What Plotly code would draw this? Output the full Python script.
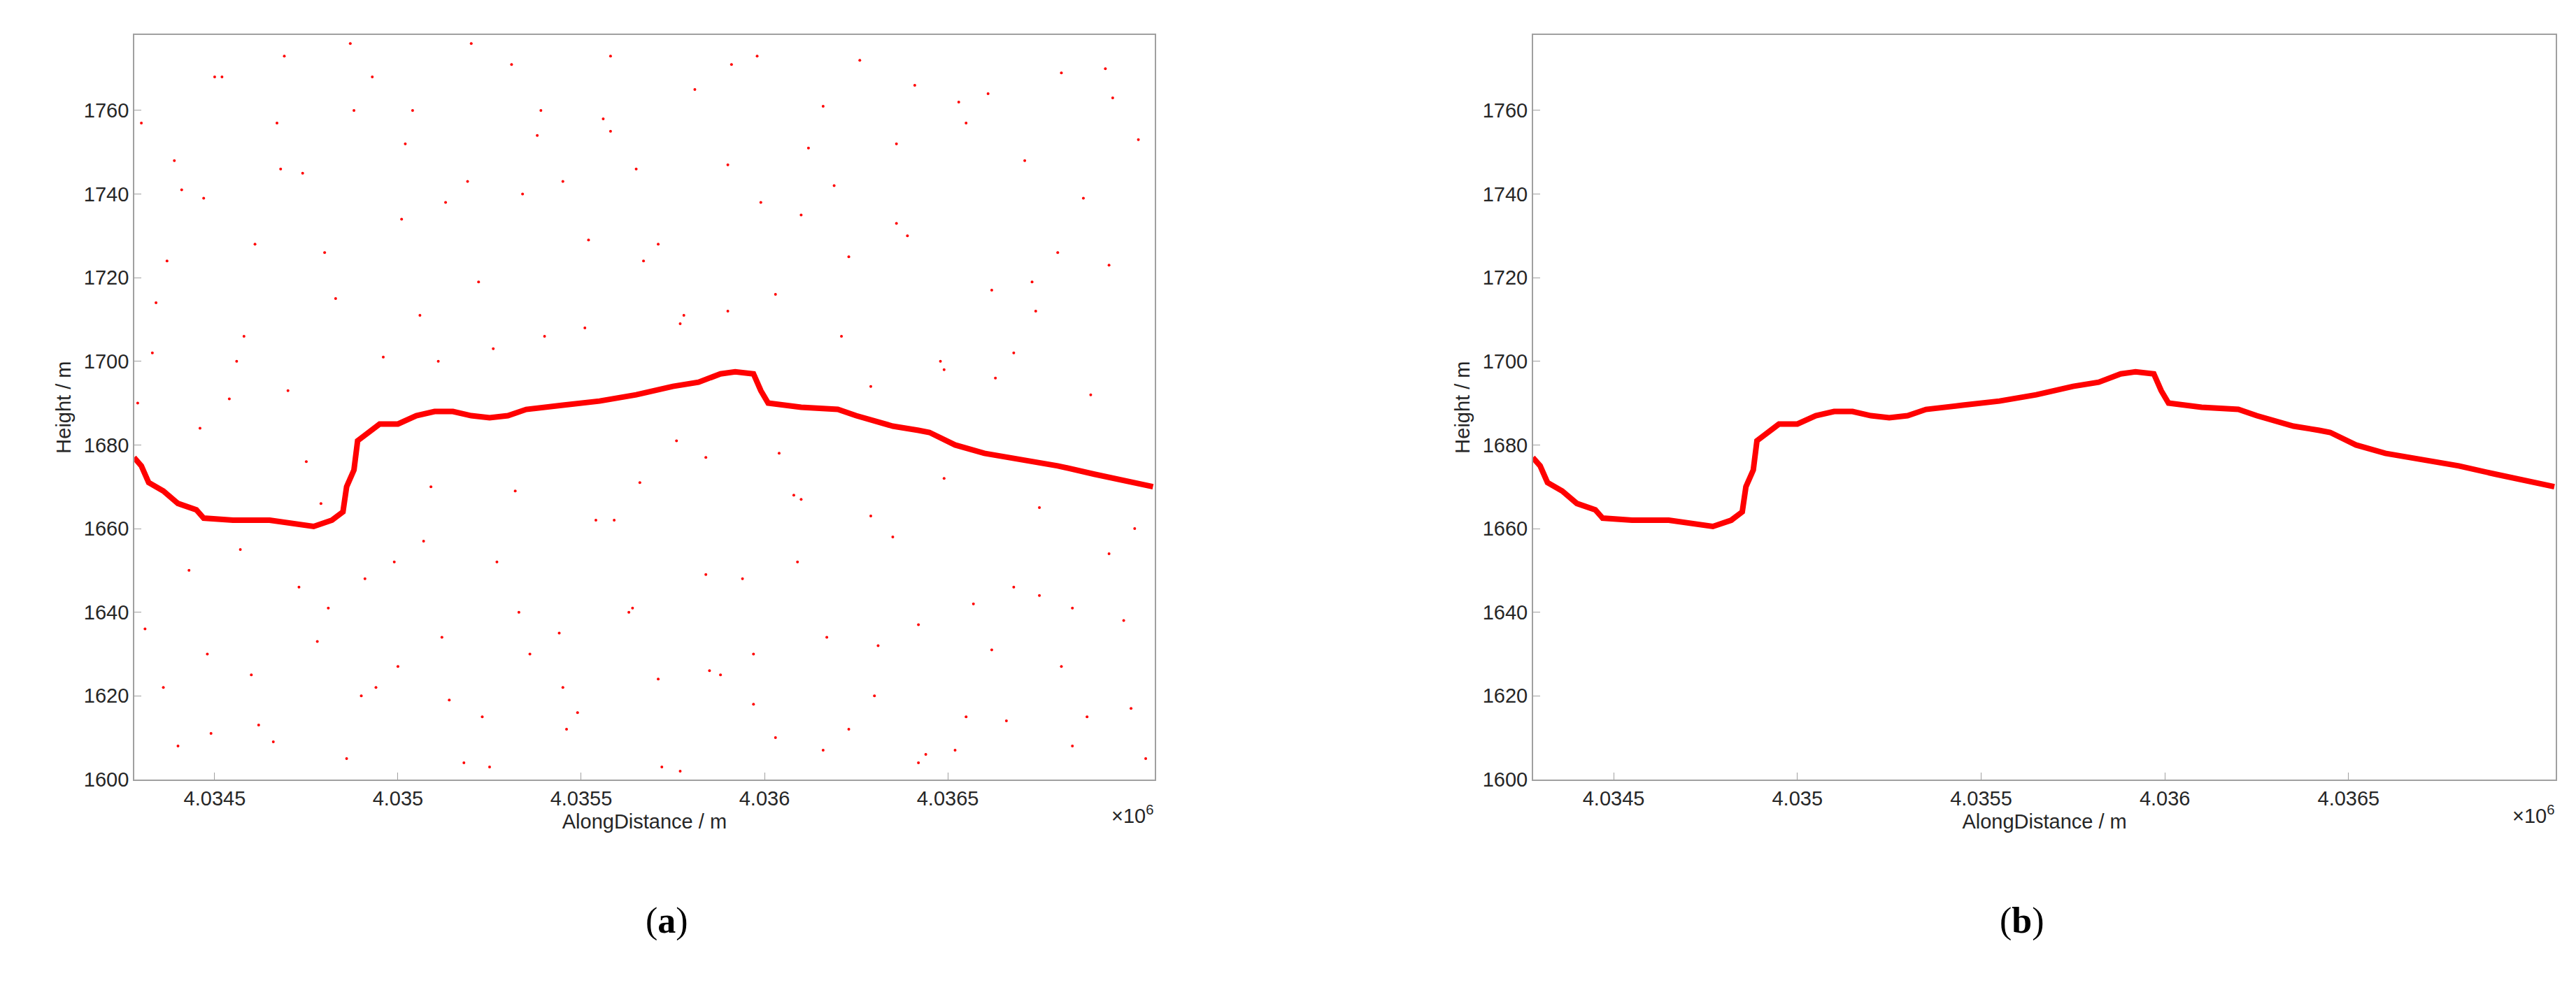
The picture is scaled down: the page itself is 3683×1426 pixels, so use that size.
import plotly.graph_objects as go

# profile (x in 1e6 m, height m)
prof_x = [4.03428,4.03430,4.03432,4.03436,4.03440,4.03445,4.03447,4.03455,4.03465,4.03472,4.03477,4.03482,4.03485,4.03486,4.03488,4.03489,4.03492,4.03495,4.03500,4.03505,4.03510,4.03515,4.03520,4.03525,4.03530,4.03535,4.03545,4.03555,4.03565,4.03575,4.03582,4.03588,4.03592,4.03597,4.03599,4.03601,4.03610,4.03620,4.03625,4.03635,4.03642,4.03645,4.03652,4.03660,4.03670,4.03680,4.03690,4.03706]
prof_y = [1677,1675,1671,1669,1666,1664.5,1662.5,1662,1662,1661,1660.5,1662,1664,1670,1674,1681,1683,1685,1685,1687,1688,1688,1687,1686.5,1687,1688.5,1689.5,1690.5,1692,1694,1695,1697,1697.5,1697,1693,1690,1689,1688.5,1687,1684.5,1683.5,1683,1680,1678,1676.5,1675,1673,1670]

# noise photons
noise_x = [4.03430,4.03433,4.03436,4.03441,4.03446,4.03449,4.03452,4.03457,4.03461,4.03466,4.03470,4.03474,4.03478,4.03483,4.03487,4.03491,4.03496,4.03500,4.03504,4.03509,4.03513,4.03518,4.03522,4.03527,4.03531,4.03536,4.03540,4.03545,4.03549,4.03554,4.03558,4.03563,4.03567,4.03572,4.03576,4.03581,4.03585,4.03590,4.03594,4.03599,4.03603,4.03608,4.03612,4.03617,4.03621,4.03626,4.03630,4.03635,4.03639,4.03644,4.03648,4.03653,4.03657,4.03662,4.03666,4.03671,4.03675,4.03680,4.03684,4.03689,4.03693,4.03698,4.03702,
           4.03431,4.03437,4.03443,4.03450,4.03456,4.03462,4.03468,4.03475,4.03481,4.03488,4.03494,4.03501,4.03507,4.03514,4.03520,4.03526,4.03533,4.03539,4.03546,4.03552,4.03559,4.03565,4.03571,4.03578,4.03584,4.03591,4.03597,4.03604,4.03610,4.03616,4.03623,4.03629,4.03636,4.03642,4.03649,4.03655,4.03661,4.03668,4.03674,4.03681,4.03687,4.03694,4.03700,
           4.03434,4.03440,4.03447,4.03454,4.03460,4.03467,4.03473,4.03480,4.03486,4.03493,4.03499,4.03506,4.03512,4.03519,4.03525,4.03532,4.03538,4.03545,4.03551,4.03558,4.03564,4.03571,4.03577,4.03584,4.03590,4.03597,4.03603,4.03610,4.03616,4.03623,4.03629,4.03636,4.03642,4.03649,4.03655,4.03662,4.03668,4.03675,4.03681,4.03688,4.03694,4.03701,
           4.03429,4.03439,4.03448,4.03458,4.03469,4.03479,4.03490,4.03502,4.03511,4.03523,4.03534,4.03544,4.03556,4.03566,4.03577,4.03588,4.03598,4.03609,4.03619,4.03631,4.03641,4.03652,4.03663,4.03673,4.03684,4.03695,4.03704]
noise_y = [1757,1702,1622,1741,1684,1611,1768,1655,1728,1609,1693,1745,1633,1715,1776,1648,1701,1627,1760,1670,1738,1604,1719,1652,1771,1630,1706,1743,1616,1662,1755,1640,1724,1603,1681,1765,1626,1712,1648,1738,1610,1668,1751,1634,1706,1772,1620,1658,1730,1606,1700,1762,1642,1717,1614,1748,1665,1726,1608,1692,1770,1638,1753,
           1636,1724,1650,1768,1700,1613,1746,1676,1641,1760,1622,1734,1657,1619,1776,1703,1640,1760,1612,1729,1662,1746,1624,1711,1649,1771,1618,1678,1735,1607,1725,1663,1752,1637,1698,1615,1764,1646,1712,1627,1739,1654,1617,
           1714,1608,1739,1691,1625,1757,1646,1726,1605,1768,1652,1711,1634,1743,1603,1669,1754,1622,1708,1773,1641,1728,1602,1677,1747,1630,1716,1667,1761,1612,1694,1733,1604,1672,1757,1631,1702,1644,1769,1615,1723,1660,
           1690,1748,1630,1706,1773,1666,1620,1752,1700,1615,1740,1635,1758,1671,1709,1625,1773,1652,1742,1632,1766,1607,1696,1719,1641,1763,1605]

xticks = [4.0345,4.035,4.0355,4.036,4.0365]
xtick_text = ["4.0345","4.035","4.0355","4.036","4.0365"]
yticks = [1600,1620,1640,1660,1680,1700,1720,1740,1760]

fig = go.Figure()
red = "#ff0000"
fig.add_trace(go.Scatter(x=noise_x, y=noise_y, mode="markers", marker=dict(color=red, size=4), xaxis="x", yaxis="y", showlegend=False))
for xa, ya in [("x","y"),("x2","y2")]:
    fig.add_trace(go.Scatter(x=prof_x, y=prof_y, mode="lines", line=dict(color=red, width=8), xaxis=xa, yaxis=ya, showlegend=False))

font = dict(family="Liberation Sans, Arial", size=29, color="#262626")
ax = dict(range=[4.034281, 4.037064], tickvals=xticks, ticktext=xtick_text, ticks="inside", ticklen=10,
          showgrid=False, zeroline=False, showline=True, mirror=True, linecolor="#a0a0a0", linewidth=2,
          tickcolor="#a0a0a0", tickfont=font, title=dict(text="AlongDistance / m", font=font, standoff=8))
ay = dict(range=[1600, 1778], tickvals=yticks, ticks="inside", ticklen=10, showgrid=False, zeroline=False,
          showline=True, mirror=True, linecolor="#a0a0a0", linewidth=2, tickcolor="#a0a0a0", tickfont=font,
          title=dict(text="Height / m", font=font, standoff=10))
fig.update_layout(
    width=3683, height=1426, plot_bgcolor="white", paper_bgcolor="white", margin=dict(l=0, r=0, t=0, b=0),
    xaxis=dict(ax, domain=[0.050, 0.446], anchor="y"),
    yaxis=dict(ay, domain=[0.215, 0.97], anchor="x"),
    xaxis2=dict(ax, domain=[0.593, 0.990], anchor="y2"),
    yaxis2=dict(ay, domain=[0.215, 0.97], anchor="x2"),
)
for xp in [0.446, 0.990]:
    fig.add_annotation(x=xp, y=0.165, xref="paper", yref="paper", text="×10<sup>6</sup>", showarrow=False,
                       xanchor="right", font=font)
for xp, lab in [(0.248, "(<b>a</b>)"), (0.792, "(<b>b</b>)")]:
    fig.add_annotation(x=xp, y=0.05, xref="paper", yref="paper", text=lab, showarrow=False,
                       font=dict(family="Liberation Serif, Times New Roman", size=52, color="black"))
fig.write_html("out.html")
